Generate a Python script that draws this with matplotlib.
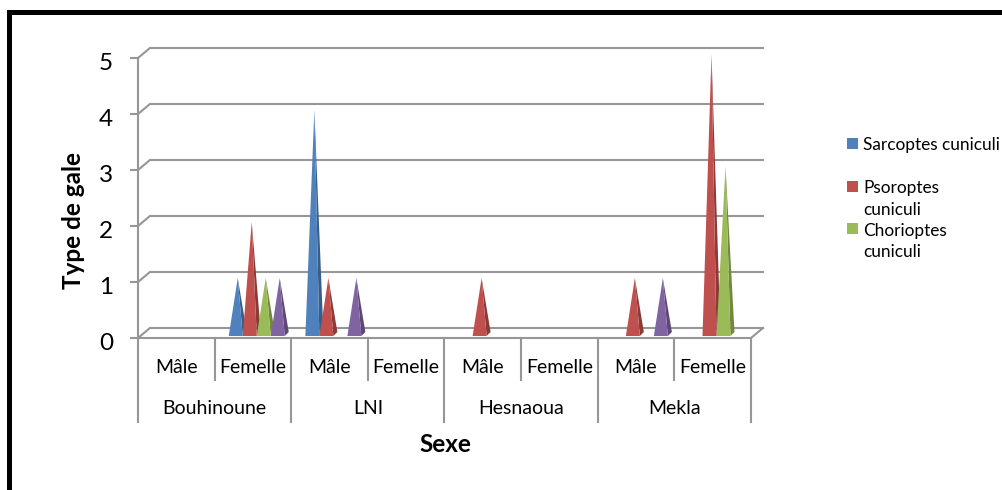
import matplotlib
matplotlib.use("Agg")
import matplotlib.pyplot as plt
from matplotlib.lines import Line2D
from matplotlib.patches import Polygon, Rectangle
from matplotlib.transforms import ScaledTranslation

plt.rcParams['font.family'] = ['Lato', 'DejaVu Sans']

sexes = ['Mâle', 'Femelle'] * 4
sites = ['Bouhinoune', 'LNI', 'Hesnaoua', 'Mekla']
y_ticks = [0, 1, 2, 3, 4, 5]

sarcoptes = [0, 1, 4, 0, 0, 0, 0, 0]
psoroptes = [0, 2, 1, 0, 1, 0, 1, 5]
chorioptes = [0, 1, 0, 0, 0, 0, 0, 3]
autre = [0, 1, 1, 0, 0, 0, 1, 0]

series = [sarcoptes, psoroptes, chorioptes, autre]
front_colors = ['#4F81BD', '#C0504D', '#9BBB59', '#8064A2']
side_colors = ['#385D8A', '#8C3A38', '#71893F', '#5C4776']

GREY = '#969696'
W, H = 1002, 490
X0, X1 = 138, 751      # front plane of the chart, pixels
Y0, Y5 = 338, 58

fig = plt.figure(figsize=(W / 100, H / 100), dpi=100, facecolor='white')
ax = fig.add_axes([X0 / W, 1 - Y0 / H, (X1 - X0) / W, (Y0 - Y5) / H])
ax.set_xlim(0, 8)
ax.set_ylim(0, 5)
ax.patch.set_visible(False)

px = 8 / (X1 - X0)     # one pixel in data units
py = 5 / (Y0 - Y5)

# black frame, only top and left
fig.add_artist(Rectangle((7 / W, 0), 5 / W, 1 - 10 / H, color='black', lw=0))
fig.add_artist(Rectangle((7 / W, 1 - 15 / H), 1 - 7 / W, 5 / H, color='black', lw=0))

# back wall and the little diagonal joins
dx, dy = 12 * px, 10 * py
for v in y_ticks:
    ax.plot([0, dx, 8 + dx], [v, v + dy, v + dy], color=GREY, lw=1.5,
            clip_on=False, zorder=1, solid_joinstyle='miter')
ax.plot([8, 8 + dx], [0, dy], color=GREY, lw=1.5, clip_on=False, zorder=1)

# axes
for s in ['top', 'right']:
    ax.spines[s].set_visible(False)
for s in ['left', 'bottom']:
    ax.spines[s].set_color(GREY)
    ax.spines[s].set_linewidth(1.5)
ax.set_yticks(y_ticks)
ax.tick_params(axis='y', length=6, width=1.5, color=GREY, labelsize=17.5,
               labelcolor='black', pad=12)
# digits sit a bit under their tick in the original
down = ScaledTranslation(0, -3 / 100, fig.dpi_scale_trans)
for lab in ax.get_yticklabels():
    lab.set_transform(lab.get_transform() + down)
ax.set_xticks([i + 0.5 for i in range(8)])
ax.set_xticklabels(sexes, fontsize=14)
ax.tick_params(axis='x', length=0, pad=15)
ax.set_ylabel('Type de gale', fontsize=17.5, fontweight='bold')
ax.yaxis.set_label_coords(-53 / (X1 - X0), 0.42)
ax.set_xlabel('Sexe', fontsize=17.5, fontweight='bold')
ax.xaxis.set_label_coords(0.502, -95 * py / 5)

# two level category axis
for i in range(9):
    bottom = -84 * py if i % 2 == 0 else -42 * py
    ax.add_line(Line2D([i, i], [0, bottom], color=GREY, lw=1.5, clip_on=False))
for i, site in enumerate(sites):
    ax.text(2 * i + 1, -70 * py, site, ha='center', va='center', fontsize=14)

# pyramids, tip sits over the middle of front face plus side face
bar_w = 14 * px
half = 7 * px
shift = 5.8 * px
base = 2 * py
for s, vals in enumerate(series):
    for i, v in enumerate(vals):
        if v == 0:
            continue
        tip_x = i + 0.5 + shift + (s - 1.5) * bar_w
        c = tip_x - 2 * px
        tip = (tip_x, v + base + 2 * py)
        left, right = (c - half, base), (c + half, base)
        back = (c + half + 4 * px, base + 4 * py)
        ax.add_patch(Polygon([right, back, tip], color=side_colors[s], lw=0,
                             clip_on=False, zorder=3 + s))
        ax.add_patch(Polygon([left, right, tip], color=front_colors[s], lw=0,
                             clip_on=False, zorder=3 + s))

# legend, the fourth series has no entry in the original
legend_rows = [(138, 'Sarcoptes cuniculi', 145, front_colors[0]),
               (181, 'Psoroptes', 188, front_colors[1]),
               (None, 'cuniculi', 210, None),
               (223, 'Chorioptes', 231, front_colors[2]),
               (None, 'cuniculi', 252, None)]
for top, label, ty, col in legend_rows:
    if top is not None:
        fig.add_artist(Rectangle((847 / W, 1 - (top + 11) / H), 11 / W, 11 / H,
                                 color=col, lw=0))
    fig.text(863 / W, 1 - ty / H, label, ha='left', va='center', fontsize=12.4)

fig.savefig('out.png', dpi=100)
